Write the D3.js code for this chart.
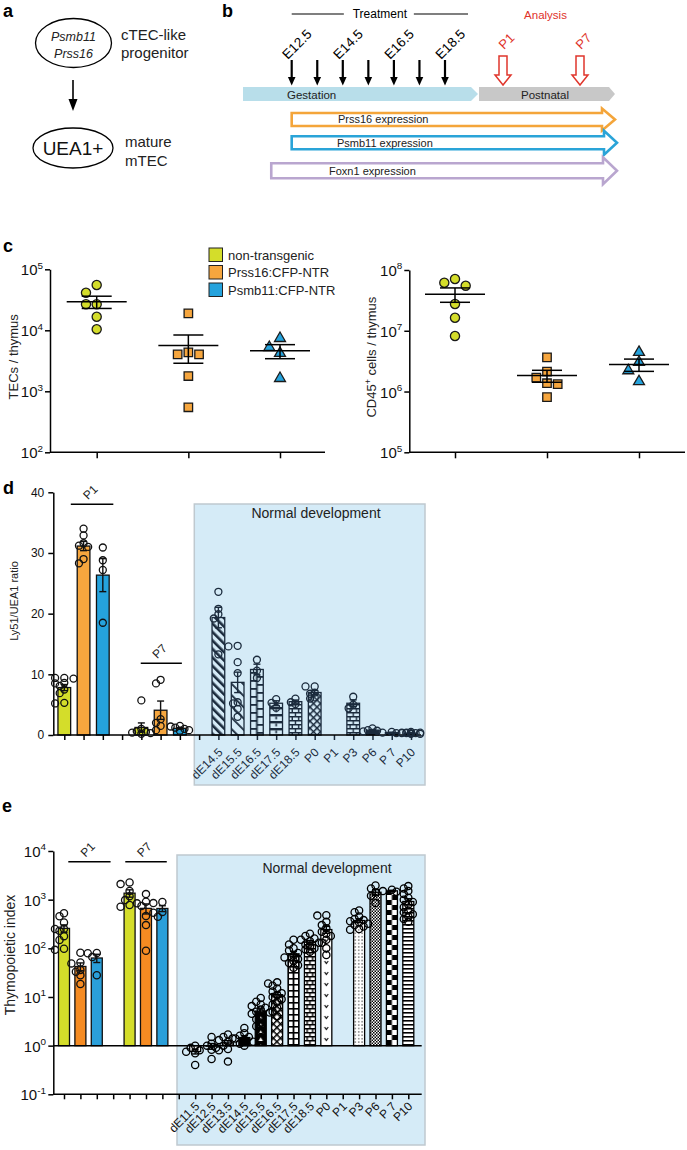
<!DOCTYPE html>
<html><head><meta charset="utf-8">
<script src="https://cdn.jsdelivr.net/npm/d3@7"></script>
<style>body{margin:0;background:#fff}svg{display:block}</style>
</head><body>
<svg id="fig" width="687" height="1150"></svg>
<script>
// ================= DATA =================
// panel a
const progenitorGenes = ["Psmb11", "Prss16"];
const progenitorLabel = ["cTEC-like", "progenitor"];
const matureMarker = "UEA1+";
const matureLabel = ["mature", "mTEC"];
// panel b
const injectionDays = [12.5, 13.5, 14.5, 15.5, 16.5, 17.5, 18.5];
const labeledDays = [12.5, 14.5, 16.5, 18.5];
const analysisDays = [1, 7];
const expressionNames = ["Prss16 expression", "Psmb11 expression", "Foxn1 expression"];
const expressionStart = [12.5, 12.5, 11.7];
// panel c
const groups = ["non-transgenic", "Prss16:CFP-NTR", "Psmb11:CFP-NTR"];
const tecCounts = [
  [55300, 41300, 26700, 26700, 16700, 10400],
  [19000, 4360, 4040, 4040, 1780, 547],
  [7390, 5260, 4200, 1630]
];
const cd45Counts = [
  [61.8e6, 55.2e6, 71.1e6, 27.6e6, 16.4e6, 8.2e6],
  [3.66e6, 2.12e6, 1.69e6, 1.37e6, 1.32e6, 0.81e6],
  [4.43e6, 3.03e6, 2.21e6, 1.46e6]
];
const tecTicks = [1e2, 1e3, 1e4, 1e5];
const cd45Ticks = [1e5, 1e6, 1e7, 1e8];
// panel d
const ratioP1 = [
  [9.4, 9.4, 9.3, 8.6, 8.5, 7.5, 6.9, 8.1, 5.2, 5.3],
  [34.0, 32.9, 31.6, 31.2, 31.0, 29.0, 28.3],
  [30.9, 28.8, 27.2, 18.5]
];
const ratioP7 = [
  [5.7, 1.0, 0.6, 0.3, 0.5, 0.2, 0.4],
  [9.1, 8.5, 2.6, 2.0, 1.5, 0.8],
  [1.5, 1.4, 1.2, 1.0, 0.8, 0.7]
];
const stagesD = ["dE14.5", "dE15.5", "dE16.5", "dE17.5", "dE18.5", "P0", "P1", "P3", "P6", "P 7", "P10"];
const ratioDev = [
  [23.6, 20.8, 19.9, 19.2, 13.3],
  [14.7, 14.6, 12.0, 10.2, 5.4, 5.2, 4.3, 3.0],
  [12.4, 10.6, 9.4],
  [5.9, 5.3, 4.5],
  [6.0, 5.4, 5.1],
  [8.0, 8.0, 7.0, 6.8, 6.2, 6.0],
  [],
  [6.3, 5.0, 4.4],
  [1.1, 0.8, 0.7, 0.6],
  [0.5, 0.4, 0.3],
  [0.5, 0.4, 0.4, 0.3, 0.3, 0.3, 0.2, 0.2, 0.3, 0.4]
];
const ratioTicks = [0, 10, 20, 30, 40];
// panel e
const indexP1 = [
  [525, 457, 339, 229, 251, 148, 178, 93, 98, 250],
  [81, 51, 49, 36, 28, 18.5, 33],
  [80, 79, 66, 28]
];
const indexP7 = [
  [2090, 2265, 1510, 980, 1180, 775, 715],
  [905, 840, 1300, 745, 460, 300, 89],
  [850, 900, 560, 540, 445]
];
const stagesE = ["dE11.5", "dE12.5", "dE13.5", "dE14.5", "dE15.5", "dE16.5", "dE17.5", "dE18.5", "P0", "P1", "P3", "P6", "P 7", "P10"];
const indexDev = [
  [1.0, 0.8, 0.75, 0.4, 0.9, 0.7],
  [1.5, 1.0, 0.82, 0.53, 0.9, 1.1],
  [1.7, 1.5, 1.3, 1.2, 1.0, 0.85, 0.8, 0.47, 1.4],
  [2.3, 1.8, 1.6, 1.4, 1.3, 1.2, 1.1, 1.0, 1.5],
  [9.5, 8, 7, 6, 5.5, 5, 4.5, 4, 3.5, 3, 2.5, 2.1, 6.5, 4.8],
  [20, 19, 17, 15, 13, 11, 10, 9, 8, 7, 6, 5, 4, 12],
  [150, 120, 100, 90, 80, 70, 65, 60, 55, 50, 45, 40],
  [200, 180, 160, 150, 140, 130, 120, 110, 100, 95, 85],
  [480, 470, 350, 300, 260, 220, 200, 180, 150, 130, 100, 73],
  [],
  [600, 550, 450, 400, 380, 360, 340, 320, 300, 280, 250, 240],
  [1950, 1700, 1400, 1200, 850],
  [1600, 1500, 1450],
  [1900, 1700, 1500, 1300, 1100, 1000, 900, 800, 700, 600, 550, 500, 450, 400, 350]
];
const indexTicks = [0.1, 1, 10, 100, 1000, 10000];

// ================= STYLE =================
const FONT = '"Liberation Sans", Arial, Helvetica, sans-serif';
const groupFill = ["#d4dd2a", "#f6a63e", "#25a3dd"];
const groupFillE = ["#d4dd2a", "#f58b22", "#2a9fda"];
const groupSymbol = [d3.symbolCircle, d3.symbolSquare, d3.symbolTriangle];
const groupSymSize = [66, 72, 52];
const BOX_FILL = "#d5ebf7", BOX_STROKE = "#bfc9cf", NAVY = "#1b2b3d";
const patternsD = ["diagThick", "diagThin", "ladder", "bands", "brick", "cross", "plain", "brick", "solid", "solid", "solid"];
const patternsE = ["plain", "hlines", "checkFine", "solid", "dotsOnBlack", "cross", "H", "brick", "vmarks", "plain", "dots", "checkFine", "checkLarge", "hlines"];

const svg = d3.select("#fig").attr("font-family", FONT);
svg.append("rect").attr("width", 687).attr("height", 1150).attr("fill", "#fff");
const defs = svg.append("defs");

function panelLabel(t, x, y) {
  svg.append("text").attr("x", x).attr("y", y).attr("font-size", 18).attr("font-weight", "bold").text(t);
}

// ================= PANEL A =================
panelLabel("a", 3, 17);
const gA = svg.append("g");
gA.append("ellipse").attr("cx", 73.5).attr("cy", 43).attr("rx", 38).attr("ry", 24.5)
  .attr("fill", "none").attr("stroke", "#000").attr("stroke-width", 1.3);
progenitorGenes.forEach((t, i) => gA.append("text").attr("x", 73.5).attr("y", 41 + i * 17)
  .attr("text-anchor", "middle").attr("font-size", 12.5).attr("font-style", "italic").attr("fill", "#222").text(t));
progenitorLabel.forEach((t, i) => gA.append("text").attr("x", 121).attr("y", 40 + i * 18)
  .attr("font-size", 15).attr("fill", "#222").text(t));
gA.append("line").attr("x1", 73).attr("x2", 73).attr("y1", 80).attr("y2", 101).attr("stroke", "#000").attr("stroke-width", 1.6);
gA.append("path").attr("d", "M68.5,99L77.5,99L73,111Z").attr("fill", "#000");
gA.append("ellipse").attr("cx", 73).attr("cy", 148).attr("rx", 40).attr("ry", 20)
  .attr("fill", "none").attr("stroke", "#000").attr("stroke-width", 1.3);
gA.append("text").attr("x", 73).attr("y", 155).attr("text-anchor", "middle").attr("font-size", 19).attr("fill", "#111").text(matureMarker);
matureLabel.forEach((t, i) => gA.append("text").attr("x", 125).attr("y", 147 + i * 19)
  .attr("font-size", 15).attr("fill", "#222").text(t));

// ================= PANEL B =================
panelLabel("b", 222, 17);
const gB = svg.append("g");
const gs = d3.scaleLinear().domain([12.5, 18.5]).range([291.7, 445]);
const ps = d3.scaleLinear().domain([1, 7]).range([503, 580]);
const trL = gs(injectionDays[0]), trR = gs(injectionDays[injectionDays.length - 1]) + 23, trC = (trL + trR) / 2;
gB.append("line").attr("x1", trL).attr("x2", trC - 36).attr("y1", 14).attr("y2", 14).attr("stroke", "#000").attr("stroke-width", 1.2);
gB.append("line").attr("x1", trC + 34).attr("x2", trR).attr("y1", 14).attr("y2", 14).attr("stroke", "#000").attr("stroke-width", 1.2);
gB.append("text").attr("x", trC).attr("y", 18).attr("text-anchor", "middle").attr("font-size", 12).text("Treatment");
gB.append("text").attr("x", (ps(analysisDays[0]) + ps(analysisDays[1])) / 2 + 4).attr("y", 19)
  .attr("text-anchor", "middle").attr("font-size", 11.5).attr("fill", "#e0322a").text("Analysis");

function hArrow(x0, x1, cy, bh, hh, hl) {
  return `M${x0},${cy - bh}L${x1 - hl},${cy - bh}L${x1 - hl},${cy - hh}L${x1},${cy}L${x1 - hl},${cy + hh}L${x1 - hl},${cy + bh}L${x0},${cy + bh}Z`;
}
gB.append("path").attr("d", hArrow(243, 478, 94, 7, 7, 7)).attr("fill", "#b8deea");
gB.append("path").attr("d", hArrow(479, 615, 94, 7, 7, 6)).attr("fill", "#c8c8c8");
gB.append("text").attr("x", 287).attr("y", 98.5).attr("font-size", 11.5).attr("fill", "#222").text("Gestation");
gB.append("text").attr("x", 545).attr("y", 98.5).attr("text-anchor", "middle").attr("font-size", 11.5).attr("fill", "#222").text("Postnatal");

injectionDays.forEach(d => {
  const x = gs(d);
  gB.append("line").attr("x1", x).attr("x2", x).attr("y1", 60).attr("y2", 78).attr("stroke", "#000").attr("stroke-width", 2.2);
  gB.append("path").attr("d", `M${x - 3.8},77L${x + 3.8},77L${x},85.5Z`).attr("fill", "#000");
});
labeledDays.forEach(d => {
  const x = gs(d);
  gB.append("text").attr("transform", `translate(${x - 4},${60}) rotate(-45)`).attr("font-size", 13.5).text("E" + d);
});
analysisDays.forEach(d => {
  const x = ps(d);
  gB.append("path").attr("d", `M${x - 4},56L${x + 4},56L${x + 4},75L${x + 8},75L${x},85L${x - 8},75L${x - 4},75Z`)
    .attr("fill", "#fff").attr("stroke", "#e0362c").attr("stroke-width", 1.5);
  gB.append("text").attr("transform", `translate(${x + 1},${50}) rotate(-45)`).attr("font-size", 13).attr("fill", "#e0322a").text("P" + d);
});
const exprColors = ["#f4a53a", "#2aa4d8", "#b9a6cf"];
const exprGeom = [[615, 119.5, 6.5, 11, 13], [617, 142.7, 6.5, 12, 13], [617, 170.8, 7.5, 13.5, 14]];
const exprText = [[338, 123], [337, 146.5], [329, 174.5]];
expressionNames.forEach((n, i) => {
  const gmt = exprGeom[i];
  gB.append("path").attr("d", hArrow(gs(expressionStart[i]), gmt[0], gmt[1], gmt[2], gmt[3], gmt[4]))
    .attr("fill", "#fff").attr("stroke", exprColors[i]).attr("stroke-width", 2.6).attr("stroke-linejoin", "miter");
});
expressionNames.forEach((n, i) => gB.append("text").attr("x", exprText[i][0]).attr("y", exprText[i][1]).attr("font-size", 11).attr("fill", "#222").text(n));

// ================= helpers =================
function swarm(vals, y, cx, minD, step, maxK) {
  const pts = vals.map(v => ({ v, y: y(v) })).sort((a, b) => a.y - b.y);
  const placed = [];
  pts.forEach(p => {
    const offs = [0];
    for (let k = 1; k <= maxK; k++) offs.push(-k * step, k * step);
    let best = cx, bestD = -1;
    for (const o of offs) {
      const x = cx + o;
      const dmin = placed.length ? d3.min(placed, q => Math.hypot(q.x - x, q.y - p.y)) : Infinity;
      if (dmin >= minD) { best = x; bestD = dmin; break; }
      if (dmin > bestD) { bestD = dmin; best = x; }
    }
    p.x = best; placed.push(p);
  });
  return placed;
}
function sem(v) { return v.length > 1 ? d3.deviation(v) / Math.sqrt(v.length) : 0; }
function powLabel(g, x, y, exp, fs) {
  const t = g.append("text").attr("x", x).attr("y", y).attr("text-anchor", "end").attr("font-size", fs).attr("fill", "#111");
  t.append("tspan").text("10");
  t.append("tspan").attr("font-size", fs * 0.66).attr("dy", -fs * 0.45).text(exp);
}
function styleAxis(sel, w) {
  sel.selectAll("line,path").attr("stroke", "#000").attr("stroke-width", w);
}

// ================= PANEL C =================
panelLabel("c", 3, 252);
function dotPanel(data, yScale, ticks, x0, x1, xr, labelX, labelParts) {
  const g = svg.append("g");
  const xs = d3.scalePoint().domain(groups).range(xr);
  const yr = yScale.range();
  g.append("g").attr("transform", `translate(${x0},0)`)
    .call(d3.axisLeft(yScale).tickValues(ticks).tickFormat("").tickSize(5).tickSizeOuter(0))
    .call(s => styleAxis(s, 1.5));
  const xa = g.append("g").attr("transform", `translate(0,${yr[0]})`)
    .call(d3.axisBottom(xs).tickFormat("").tickSize(6).tickSizeOuter(0));
  xa.select(".domain").remove();
  styleAxis(xa, 1.5);
  g.append("line").attr("x1", x0).attr("x2", x1).attr("y1", yr[0]).attr("y2", yr[0]).attr("stroke", "#000").attr("stroke-width", 1.5);
  ticks.forEach(t => powLabel(g, x0 - 7, yScale(t) + 6, String(Math.round(Math.log10(t))), 15));
  const lab = g.append("text").attr("transform", `translate(${labelX},${(yr[0] + yr[1]) / 2 - 4}) rotate(-90)`)
    .attr("text-anchor", "middle").attr("font-size", 13).attr("fill", "#222");
  labelParts.forEach(p => {
    const ts = lab.append("tspan").text(p.t);
    if (p.sup) ts.attr("font-size", 9).attr("dy", -5);
    if (p.after) ts.attr("dy", 5);
  });
  data.forEach((vals, gi) => {
    const cx = xs(groups[gi]);
    const m = d3.mean(vals), s = sem(vals);
    const pts = swarm(vals, yScale, cx, 10, 10.7, 2);
    g.selectAll(null).data(pts).enter().append("path")
      .attr("transform", d => `translate(${d.x},${d.y})`)
      .attr("d", d3.symbol().type(groupSymbol[gi]).size(groupSymSize[gi]))
      .attr("fill", groupFill[gi]).attr("stroke", "#1a1a1a").attr("stroke-width", 1.3);
    const ln = (xa, xb, ya, yb) => g.append("line").attr("x1", xa).attr("x2", xb).attr("y1", ya).attr("y2", yb).attr("stroke", "#000").attr("stroke-width", 1.5);
    ln(cx - 30, cx + 30, yScale(m), yScale(m));
    ln(cx, cx, yScale(m + s), yScale(m - s));
    ln(cx - 15, cx + 15, yScale(m + s), yScale(m + s));
    ln(cx - 15, cx + 15, yScale(m - s), yScale(m - s));
  });
  return g;
}
dotPanel(tecCounts, d3.scaleLog().domain([1e2, 1e5]).range([452.3, 269.3]), tecTicks, 50, 325, [96.7, 280], 18,
  [{ t: "TECs / thymus" }]);
dotPanel(cd45Counts, d3.scaleLog().domain([1e5, 1e8]).range([452.3, 270]), cd45Ticks, 409.3, 685, [455, 639], 375.5,
  [{ t: "CD45" }, { t: "+", sup: true }, { t: " cells / thymus", after: true }]);
// legend
const gL = svg.append("g");
groups.forEach((n, i) => {
  gL.append("rect").attr("x", 209).attr("y", 248 + i * 17.5).attr("width", 13.5).attr("height", 13.5)
    .attr("fill", groupFill[i]).attr("stroke", "#222").attr("stroke-width", 1);
  gL.append("text").attr("x", 228).attr("y", 259.5 + i * 17.5).attr("font-size", 13).attr("fill", "#222").text(n);
});

// ================= patterns =================
let patCount = 0;
function makePattern(kind, x0, w, ink, bg) {
  const id = "pat" + (patCount++);
  const p = defs.append("pattern").attr("id", id).attr("patternUnits", "userSpaceOnUse").attr("x", x0).attr("y", 0);
  const R = (x, y, ww, hh, f) => p.append("rect").attr("x", x).attr("y", y).attr("width", ww).attr("height", hh).attr("fill", f || ink);
  let tw = w, th = 6;
  switch (kind) {
    case "diagThick": tw = 6; th = 6; p.attr("patternTransform", "rotate(-45)"); R(0, 0, tw, th, bg); R(0, 0, 2.6, th); break;
    case "diagThin": tw = 8; th = 8; p.attr("patternTransform", "rotate(-45)"); R(0, 0, tw, th, bg); R(0, 0, 1.8, th); break;
    case "ladder": th = 8; R(0, 0, tw, th, bg); R(w / 2 - 0.9, 0, 1.8, th); R(0, 0, w / 2, 1.8); R(w / 2, 4, w / 2, 1.8); break;
    case "bands": th = 7; R(0, 0, tw, th, bg); R(0, 0, w, 2.4); R(w / 2 - 0.8, 2.4, 1.6, 3); break;
    case "brick": th = 8; R(0, 0, tw, th, bg); R(0, 0, w, 1.5); R(0, 4, w, 1.5); R(w / 2 - 0.7, 0, 1.4, 4); R(w / 4 - 0.7, 4, 1.4, 4); R(3 * w / 4 - 0.7, 4, 1.4, 4); break;
    case "cross": tw = 5; th = 5; p.attr("patternTransform", "rotate(45)"); R(0, 0, tw, th, bg); R(0, 0, 5, 1.5); R(0, 0, 1.5, 5); break;
    case "solid": tw = 4; th = 4; R(0, 0, tw, th, ink); break;
    case "plain": tw = 4; th = 4; R(0, 0, tw, th, bg); break;
    case "hlines": th = 4; R(0, 0, tw, th, bg); R(0, 0, w, 1.6); break;
    case "checkFine": tw = 3; th = 3; R(0, 0, tw, th, bg); R(0, 0, 1.5, 1.5); R(1.5, 1.5, 1.5, 1.5); break;
    case "checkLarge": th = 10; R(0, 0, tw, th, bg); R(0, 0, w / 2, 5); R(w / 2, 5, w / 2, 5); break;
    case "dotsOnBlack": th = 7; R(0, 0, tw, th, ink);
      p.append("path").attr("d", `M${w / 2 - 2.2},5L${w / 2 + 2.2},5L${w / 2},1.2Z`).attr("fill", bg); break;
    case "H": th = 6; R(0, 0, tw, th, ink); R(1, 1.6, w / 2 - 1.9, 4.4, bg); R(w / 2 + 0.9, 1.6, w / 2 - 1.9, 4.4, bg); break;
    case "vmarks": th = 11; R(0, 0, tw, th, bg);
      p.append("path").attr("d", `M${w / 2 - 1.8},4L${w / 2},6.5L${w / 2 + 1.8},4`).attr("fill", "none").attr("stroke", ink).attr("stroke-width", 1.1); break;
    case "dots": tw = 3.4; th = 3.4; R(0, 0, tw, th, bg); p.append("circle").attr("cx", 1.7).attr("cy", 1.7).attr("r", 0.65).attr("fill", ink); break;
  }
  p.attr("width", tw).attr("height", th);
  return `url(#${id})`;
}

// ================= bar panel helper =================
function drawBar(g, cx, w, y, base, vals, fill, stroke) {
  if (!vals.length) return;
  const m = d3.mean(vals);
  const y0 = y(base), y1 = y(m);
  g.append("rect").attr("x", cx - w / 2).attr("y", Math.min(y0, y1)).attr("width", w).attr("height", Math.abs(y1 - y0))
    .attr("fill", fill).attr("stroke", stroke).attr("stroke-width", 1.3);
}
function drawErr(g, cx, y, vals, stroke, floor) {
  if (vals.length < 2) return;
  const m = d3.mean(vals), s = sem(vals);
  const lo = Math.max(m - s, floor), hi = m + s;
  const ln = (xa, xb, ya, yb) => g.append("line").attr("x1", xa).attr("x2", xb).attr("y1", ya).attr("y2", yb).attr("stroke", stroke).attr("stroke-width", 1.4);
  ln(cx, cx, y(hi), y(lo));
  ln(cx - 3.5, cx + 3.5, y(hi), y(hi));
  ln(cx - 3.5, cx + 3.5, y(lo), y(lo));
}
function drawPts(g, cx, y, vals, stroke, r, step) {
  const pts = swarm(vals, y, cx, r * 1.35, step, 2);
  g.selectAll(null).data(pts).enter().append("circle").attr("cx", d => d.x).attr("cy", d => d.y).attr("r", r)
    .attr("fill", "none").attr("stroke", stroke).attr("stroke-width", 1.3);
}

// ================= PANEL D =================
panelLabel("d", 3, 494);
const gD = svg.append("g");
const yD = d3.scaleLinear().domain([0, 40]).range([735, 492.3]);
const xD = d3.scalePoint().domain(d3.range(8 + stagesD.length)).range([64.3, 411]);
const bwD = 12.7;
gD.append("rect").attr("x", 194.3).attr("y", 504).attr("width", 230.7).attr("height", 281)
  .attr("fill", BOX_FILL).attr("stroke", BOX_STROKE).attr("stroke-width", 1.5);
gD.append("text").attr("x", 316).attr("y", 518).attr("text-anchor", "middle").attr("font-size", 14).attr("fill", "#222").text("Normal development");
[ratioP1, ratioP7].forEach((set, si) => set.forEach((vals, gi) => drawBar(gD, xD(si * 4 + gi), bwD, yD, 0, vals, groupFill[gi], "#111")));
stagesD.forEach((s, i) => {
  const cx = xD(8 + i);
  drawBar(gD, cx, bwD, yD, 0, ratioDev[i], makePattern(patternsD[i], cx - bwD / 2, bwD, NAVY, BOX_FILL), NAVY);
});
// axes
const axD = gD.append("g").attr("transform", "translate(53.3,0)")
  .call(d3.axisLeft(yD).tickValues(ratioTicks).tickSize(5).tickSizeOuter(0));
styleAxis(axD, 1.5);
axD.selectAll("text").attr("font-size", 12).attr("font-family", FONT).attr("fill", "#111").attr("dx", -1);
const xaD = gD.append("g").attr("transform", "translate(0,735)").call(d3.axisBottom(xD).tickFormat("").tickSize(5).tickSizeOuter(0));
xaD.select(".domain").remove(); styleAxis(xaD, 1.5);
xaD.selectAll(".tick line").filter((d) => d >= 8).attr("stroke", NAVY);
gD.append("line").attr("x1", 53.3).attr("x2", 421).attr("y1", 735).attr("y2", 735).attr("stroke", "#000").attr("stroke-width", 1.5);
stagesD.forEach((s, i) => gD.append("text").attr("transform", `translate(${xD(8 + i) + 5},753) rotate(-45)`)
  .attr("text-anchor", "end").attr("font-size", 12).attr("fill", NAVY).text(s));
gD.append("text").attr("transform", "translate(17.5,601) rotate(-90)").attr("text-anchor", "middle").attr("font-size", 11).attr("fill", "#222").text("Ly51/UEA1 ratio");
// error bars & points
[ratioP1, ratioP7].forEach((set, si) => set.forEach((vals, gi) => {
  const cx = xD(si * 4 + gi);
  drawErr(gD, cx, yD, vals, "#111", 0);
  drawPts(gD, cx, yD, vals, "#111", 3.5, 4.6);
}));
stagesD.forEach((s, i) => {
  const cx = xD(8 + i);
  drawErr(gD, cx, yD, ratioDev[i], NAVY, 0);
  drawPts(gD, cx, yD, ratioDev[i], NAVY, 3.5, 4.6);
});
// brackets
function bracket(g, x1, x2, y, label) {
  g.append("line").attr("x1", x1).attr("x2", x2).attr("y1", y).attr("y2", y).attr("stroke", "#000").attr("stroke-width", 1.4);
  g.append("text").attr("transform", `translate(${(x1 + x2) / 2 - 4},${y - 4}) rotate(-45)`).attr("font-size", 12).attr("fill", "#222").text(label);
}
bracket(gD, xD(0) + 6.5, xD(2) + 10.5, 504.3, "P1");
bracket(gD, xD(4) - 0.6, xD(6) + 2, 663.3, "P7");

// ================= PANEL E =================
panelLabel("e", 2, 812);
const gE = svg.append("g");
const yE = d3.scaleLog().domain([0.1, 1e4]).range([1094.3, 851]);
const xE = d3.scalePoint().domain(d3.range(8 + stagesE.length)).range([64, 408.3]);
const bwE = 11;
gE.append("rect").attr("x", 177).attr("y", 855).attr("width", 248).attr("height", 290)
  .attr("fill", BOX_FILL).attr("stroke", BOX_STROKE).attr("stroke-width", 1.5);
gE.append("text").attr("x", 327).attr("y", 873).attr("text-anchor", "middle").attr("font-size", 14).attr("fill", "#222").text("Normal development");
[indexP1, indexP7].forEach((set, si) => set.forEach((vals, gi) => drawBar(gE, xE(si * 4 + gi), bwE, yE, 1, vals, groupFillE[gi], "#111")));
stagesE.forEach((s, i) => {
  const cx = xE(8 + i);
  drawBar(gE, cx, bwE, yE, 1, indexDev[i], makePattern(patternsE[i], cx - bwE / 2, bwE, "#000", "#fff"), "#000");
});
const axE = gE.append("g").attr("transform", "translate(53.3,0)")
  .call(d3.axisLeft(yE).tickValues(indexTicks).tickFormat("").tickSize(5).tickSizeOuter(0));
styleAxis(axE, 1.5);
indexTicks.forEach(t => powLabel(gE, 46, yE(t) + 6, String(Math.round(Math.log10(t))), 15));
const xaE = gE.append("g").attr("transform", "translate(0,1094.3)").call(d3.axisBottom(xE).tickFormat("").tickSize(5).tickSizeOuter(0));
xaE.select(".domain").remove(); styleAxis(xaE, 1.5);
gE.append("line").attr("x1", 53.3).attr("x2", 421.7).attr("y1", 1094.3).attr("y2", 1094.3).attr("stroke", "#000").attr("stroke-width", 1.5);
gE.append("line").attr("x1", 53.3).attr("x2", 421.7).attr("y1", yE(1)).attr("y2", yE(1)).attr("stroke", "#000").attr("stroke-width", 1.5);
stagesE.forEach((s, i) => gE.append("text").attr("transform", `translate(${xE(8 + i) + 5},1107) rotate(-45)`)
  .attr("text-anchor", "end").attr("font-size", 12).attr("fill", "#111").text(s));
gE.append("text").attr("transform", "translate(15,955) rotate(-90)").attr("text-anchor", "middle").attr("font-size", 14).attr("fill", "#222").text("Thymopoietic index");
[indexP1, indexP7].forEach((set, si) => set.forEach((vals, gi) => {
  const cx = xE(si * 4 + gi);
  drawErr(gE, cx, yE, vals, "#111", 0.1);
  drawPts(gE, cx, yE, vals, "#111", 3.6, 4.5);
}));
stagesE.forEach((s, i) => {
  const cx = xE(8 + i);
  drawErr(gE, cx, yE, indexDev[i], "#000", 0.1);
  drawPts(gE, cx, yE, indexDev[i], "#000", 3.6, 4.5);
});
bracket(gE, xE(0) + 4.3, xE(3) - 2.6, 861.7, "P1");
bracket(gE, xE(4) - 4.3, xE(6) + 4.4, 861.7, "P7");
</script>
</body></html>
